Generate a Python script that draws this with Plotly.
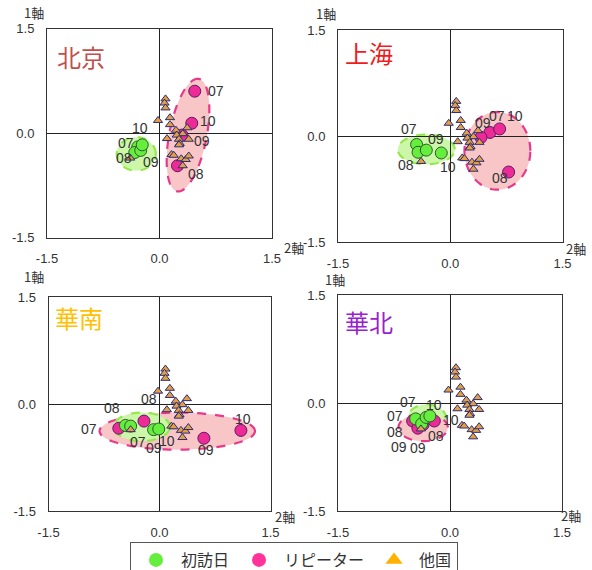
import numpy as np
import plotly.graph_objects as go

W, H = 592, 570

# ---------------- data ----------------
YEAR_LABELS = ["07", "08", "09", "10"]
CITY_NAMES = ["北京", "上海", "華南", "華北"]
SERIES_NAMES = ["初訪日", "リピーター", "他国"]
AXIS_TICKS = [-1.5, 0.0, 1.5]
AXIS_TICK_TEXT = ["-1.5", "0.0", "1.5"]

# 北京
BJ_FIRST_X = [-0.29, -0.33, -0.25, -0.23]
BJ_FIRST_Y = [-0.20, -0.28, -0.25, -0.17]
BJ_REPEAT_X = [0.47, 0.24, 0.30, 0.43]
BJ_REPEAT_Y = [0.60, -0.47, -0.03, 0.14]
# 上海
SH_FIRST_X = [-0.45, -0.43, -0.32, -0.12]
SH_FIRST_Y = [-0.12, -0.23, -0.20, -0.24]
SH_REPEAT_X = [0.53, 0.78, 0.41, 0.66]
SH_REPEAT_Y = [0.05, -0.51, -0.02, 0.10]
# 華南
HN_FIRST_X = [-0.46, -0.39, -0.08, -0.01]
HN_FIRST_Y = [-0.30, -0.31, -0.36, -0.35]
HN_REPEAT_X = [-0.55, -0.21, 0.60, 1.10]
HN_REPEAT_Y = [-0.34, -0.24, -0.48, -0.37]
# 華北
HB_FIRST_X = [-0.46, -0.38, -0.32, -0.27]
HB_FIRST_Y = [-0.22, -0.29, -0.20, -0.18]
HB_REPEAT_X = [-0.50, -0.43, -0.36, -0.21]
HB_REPEAT_Y = [-0.25, -0.35, -0.30, -0.25]

# 他国 (same in every panel)
OTHER_X = [0.08, 0.067, 0.08, -0.02, 0.14, 0.14, 0.37, 0.22, 0.31, 0.23, 0.10,
           0.39, 0.26, 0.27, 0.26, 0.16, 0.19, 0.29, 0.35, 0.39, 0.31, -0.39]
OTHER_Y = [0.49, 0.43, 0.36, 0.18, 0.22, 0.12, 0.075, 0.04, -0.01, -0.03, -0.08,
           -0.09, -0.09, -0.15, -0.17, -0.31, -0.32, -0.37, -0.38, -0.33, -0.47, -0.36]

# group ellipses: centre x, centre y, semi-axis a, semi-axis b, angle (deg)
BJ_FIRST_ELLIPSE = [-0.31, -0.30, 0.26, 0.24, 0]
BJ_REPEAT_ELLIPSE = [0.38, -0.03, 0.82, 0.25, 80]
SH_FIRST_ELLIPSE = [-0.32, -0.19, 0.38, 0.21, 0]
SH_REPEAT_ELLIPSE = [0.63, -0.21, 0.44, 0.55, 0]
HN_FIRST_ELLIPSE = [-0.24, -0.32, 0.38, 0.20, 0]
HN_REPEAT_ELLIPSE = [0.24, -0.38, 1.05, 0.26, 0]
HB_FIRST_ELLIPSE = [-0.31, -0.22, 0.26, 0.20, 0]
HB_REPEAT_ELLIPSE = [-0.36, -0.34, 0.33, 0.19, 0]

# ---------------- styling / layout ----------------
FONT = "Liberation Sans, Arial, Noto Sans CJK JP, sans-serif"
CJK_FONT = "Noto Sans CJK JP, sans-serif"
GREEN_FILL = "#66ee3c"
GREEN_LINE = "#2f5a2f"
PINK_FILL = "#ee2a96"
PINK_LINE = "#5a1c66"
TRI_FILL = "#e2a040"
TRI_LINE = "#2b2b78"
GREEN_AREA = "#cdf7a8"
GREEN_DASH = "#93e84a"
PINK_AREA = "#f9c6c8"
PINK_DASH = "#e8388a"
TITLE_COLORS = ["#c0504d", "#ee1c1c", "#ffc000", "#9922cc"]

# panel boxes in pixels: left, right, top, bottom
BOXES = [(47, 272, 28.5, 237.5), (338, 562.5, 30, 242),
         (48.5, 270.5, 297, 511), (338, 562, 295, 511)]
TITLE_POS = [(55, 57), (343, 52.5), (53, 317.5), (343, 321.5)]
AX1_POS = [(33.5, 13), (326, 14), (33.5, 276), (335, 279)]
AX2_POS = [(294, 247), (576, 248), (285, 516), (571, 515)]

# label offsets (px, right / up) for 07..10
SHIFT_FIRST = [
    [(-12, 4), (-11, -5), (10, -12), (-2, 17)],
    [(-8, 15), (-12, -13), (10, 11), (7, -14)],
    [(13, -17), (18, 27), (0, -18), (8, -12)],
    [(-8, 17), (14, -12), (-8, -31), (4, 11)],
]
SHIFT_REPEAT = [
    [(21, 0), (18, -8), (20, -6), (16, 2)],
    [(7, 16), (-9, -6), (2, 14), (15, 13)],
    [(-30, -1), (-32, 13), (2, -12), (2, 11)],
    [(-18, 5), (-23, -4), (-24, -22), (17, 1)],
]
# which ellipse is drawn first in each panel
ELLIPSE_ORDER = ["first_then_repeat", "first_then_repeat",
                 "repeat_then_first", "first_then_repeat"]

FIRST = [(BJ_FIRST_X, BJ_FIRST_Y), (SH_FIRST_X, SH_FIRST_Y),
         (HN_FIRST_X, HN_FIRST_Y), (HB_FIRST_X, HB_FIRST_Y)]
REPEAT = [(BJ_REPEAT_X, BJ_REPEAT_Y), (SH_REPEAT_X, SH_REPEAT_Y),
          (HN_REPEAT_X, HN_REPEAT_Y), (HB_REPEAT_X, HB_REPEAT_Y)]
FIRST_ELL = [BJ_FIRST_ELLIPSE, SH_FIRST_ELLIPSE, HN_FIRST_ELLIPSE, HB_FIRST_ELLIPSE]
REPEAT_ELL = [BJ_REPEAT_ELLIPSE, SH_REPEAT_ELLIPSE, HN_REPEAT_ELLIPSE, HB_REPEAT_ELLIPSE]


def px_x(x):
    return x / W


def px_y(y):
    return 1 - y / H


def ellipse_path(params, n=120):
    cx, cy, a, b, ang = params
    t = np.linspace(0, 2 * np.pi, n, endpoint=False)
    th = np.deg2rad(ang)
    xs = cx + a * np.cos(t) * np.cos(th) - b * np.sin(t) * np.sin(th)
    ys = cy + a * np.cos(t) * np.sin(th) + b * np.sin(t) * np.cos(th)
    pts = [f"{x:.4f},{y:.4f}" for x, y in zip(xs, ys)]
    return "M " + " L ".join(pts) + " Z"


fig = go.Figure()
layout = dict(
    template="none",
    width=W, height=H,
    margin=dict(l=0, r=0, t=0, b=0, pad=0, autoexpand=False),
    paper_bgcolor="white", plot_bgcolor="white",
    font=dict(family=FONT, size=13, color="#333"),
    showlegend=True,
)
shapes = []
annotations = []

for i in range(4):
    sfx = "" if i == 0 else str(i + 1)
    xa, ya = "x" + sfx, "y" + sfx
    l, r, t, b = BOXES[i]
    axis_common = dict(
        range=[-1.5, 1.5], tickvals=AXIS_TICKS, ticktext=AXIS_TICK_TEXT,
        showgrid=False, zeroline=True, zerolinecolor="#222", zerolinewidth=1,
        showline=True, mirror=True, linecolor="#333", linewidth=1,
        ticks="outside", tickcolor="rgba(0,0,0,0)", fixedrange=True,
        automargin=False,
        tickfont=dict(size=13, color="#333", family=FONT),
    )
    layout["xaxis" + sfx] = dict(axis_common, domain=[px_x(l), px_x(r)],
                                  anchor=ya, ticklen=9)
    layout["yaxis" + sfx] = dict(axis_common, domain=[px_y(b), px_y(t)],
                                  anchor=xa, ticklen=9)

    first_shape = dict(type="path", path=ellipse_path(FIRST_ELL[i]), xref=xa, yref=ya,
                       fillcolor=GREEN_AREA, line=dict(color=GREEN_DASH, width=2.2, dash="dash"),
                       layer="below")
    rep_shape = dict(type="path", path=ellipse_path(REPEAT_ELL[i]), xref=xa, yref=ya,
                     fillcolor=PINK_AREA, line=dict(color=PINK_DASH, width=2.2, dash="dash"),
                     layer="below")
    if ELLIPSE_ORDER[i] == "first_then_repeat":
        shapes += [first_shape, rep_shape]
    else:
        shapes += [rep_shape, first_shape]

    rx, ry = REPEAT[i]
    fx, fy = FIRST[i]
    fig.add_trace(go.Scatter(x=rx, y=ry, mode="markers", xaxis=xa, yaxis=ya,
                             marker=dict(size=12, color=PINK_FILL, line=dict(color=PINK_LINE, width=1)),
                             showlegend=False, hoverinfo="skip"))
    fig.add_trace(go.Scatter(x=fx, y=fy, mode="markers", xaxis=xa, yaxis=ya,
                             marker=dict(size=12, color=GREEN_FILL, line=dict(color=GREEN_LINE, width=1)),
                             showlegend=False, hoverinfo="skip"))
    fig.add_trace(go.Scatter(x=OTHER_X, y=OTHER_Y, mode="markers", xaxis=xa, yaxis=ya,
                             marker=dict(size=8, symbol="triangle-up", color=TRI_FILL,
                                         line=dict(color=TRI_LINE, width=1)),
                             showlegend=False, hoverinfo="skip"))

    for k, lab in enumerate(YEAR_LABELS):
        for (xs, ys), shifts in ((FIRST[i], SHIFT_FIRST[i]), (REPEAT[i], SHIFT_REPEAT[i])):
            annotations.append(dict(x=xs[k], y=ys[k], xref=xa, yref=ya, text=lab,
                                    showarrow=False, xshift=shifts[k][0], yshift=shifts[k][1],
                                    font=dict(size=14, color="#333", family=FONT)))

    tx, ty = TITLE_POS[i]
    annotations.append(dict(x=px_x(tx), y=px_y(ty), xref="paper", yref="paper",
                            text=CITY_NAMES[i], showarrow=False, xanchor="left", yanchor="middle",
                            font=dict(size=24, color=TITLE_COLORS[i], family=CJK_FONT)))
    a1x, a1y = AX1_POS[i]
    annotations.append(dict(x=px_x(a1x), y=px_y(a1y), xref="paper", yref="paper",
                            text="1軸", showarrow=False, xanchor="center", yanchor="middle",
                            font=dict(size=13, color="#333", family=CJK_FONT)))
    a2x, a2y = AX2_POS[i]
    annotations.append(dict(x=px_x(a2x), y=px_y(a2y), xref="paper", yref="paper",
                            text="2軸", showarrow=False, xanchor="center", yanchor="middle",
                            font=dict(size=13, color="#333", family=CJK_FONT)))

# legend-only entries
fig.add_trace(go.Scatter(x=[None], y=[None], mode="markers", name=SERIES_NAMES[0],
                         marker=dict(size=14, color="#66ee3c")))
fig.add_trace(go.Scatter(x=[None], y=[None], mode="markers", name=SERIES_NAMES[1],
                         marker=dict(size=14, color="#ff3399")))
fig.add_trace(go.Scatter(x=[None], y=[None], mode="markers", name=SERIES_NAMES[2],
                         marker=dict(size=15, symbol="triangle-up", color="#ffb000")))

layout["shapes"] = shapes
layout["annotations"] = annotations
layout["legend"] = dict(orientation="h", x=px_x(130), xanchor="left", y=px_y(542), yanchor="top",
                        bordercolor="#555", borderwidth=1, bgcolor="white",
                        font=dict(size=16, color="#333", family=CJK_FONT),
                        itemwidth=40,
                        itemclick=False, itemdoubleclick=False)
fig.update_layout(**layout)

fig.write_html("out.html", config={"displayModeBar": False},
               post_script="document.body.style.margin='0px';")
